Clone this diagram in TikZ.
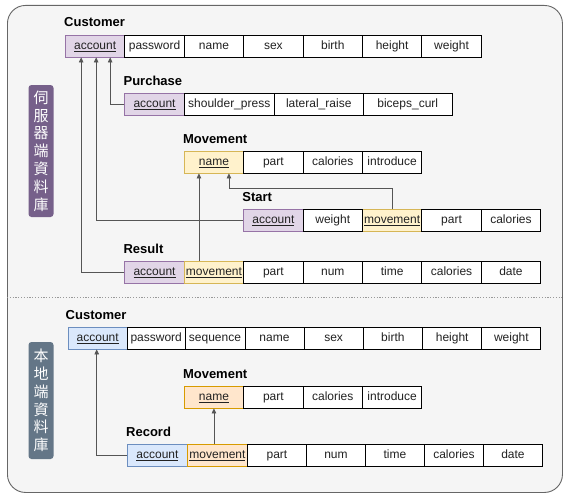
\documentclass[tikz,border=0pt]{standalone}
\usepackage{fontspec}
\setmainfont{Liberation Sans}
\newfontfamily\cjk{Noto Sans CJK TC}
\usetikzlibrary{arrows.meta}
\definecolor{pfill}{HTML}{E1D5E7}\definecolor{pdraw}{HTML}{9673A6}
\definecolor{yfill}{HTML}{FFF2CC}\definecolor{ydraw}{HTML}{D6B656}
\definecolor{bfill}{HTML}{DAE8FC}\definecolor{bdraw}{HTML}{6C8EBF}
\definecolor{ofill}{HTML}{FFE6CC}\definecolor{odraw}{HTML}{D79B00}
\definecolor{bgfill}{HTML}{F5F5F5}\definecolor{bgdraw}{HTML}{666666}
\definecolor{lblpurple}{HTML}{76608A}\definecolor{lblslate}{HTML}{647687}
\definecolor{txt}{HTML}{222222}\definecolor{conncol}{HTML}{555555}
\newcommand{\mkcell}[6]{\node[cell,#6,minimum width=#4pt] (#1) at (#2,#3) {#5};}
\begin{document}
\begin{tikzpicture}[x=1pt,y=-1pt,
  cell/.style={draw=black,fill=white,line width=0.9pt,anchor=north west,minimum height=21.5pt,inner sep=0pt,
    text height=8.6pt,text depth=2.6pt,font=\fontsize{12}{14}\selectfont,text=txt},
  pk/.style={fill=pfill,draw=pdraw},
  yk/.style={fill=yfill,draw=ydraw},
  bk/.style={fill=bfill,draw=bdraw},
  ok/.style={fill=ofill,draw=odraw},
  wk/.style={},
  ttl/.style={anchor=base west,inner sep=0pt,font=\fontsize{13}{15}\bfseries\selectfont,text=black},
  conn/.style={draw=conncol,line width=0.8pt,-{Triangle[length=5pt,width=4.5pt]}},
  lbl/.style={rounded corners=3pt,minimum width=25pt,inner sep=0pt,text=white,font=\cjk\fontsize{15}{17.8}\selectfont,align=center}
]
\useasboundingbox (0,0) rectangle (564,495);
\node[draw=bgdraw,fill=bgfill,line width=0.9pt,rounded corners=18pt,minimum width=555pt,minimum height=487pt,anchor=north west,inner sep=0pt] (frame) at (7,5) {};
\coordinate (sepL) at (7,297);
\coordinate (sepR) at (562,297);
\draw[draw=gray!80,line width=0.8pt,dash pattern=on 1.2pt off 1.6pt] (sepL) -- (sepR);

% labels
\node[lbl,fill=lblpurple,minimum height=132pt] (srvlbl) at (41,151) {伺\\服\\器\\端\\資\\料\\庫};
\node[lbl,fill=lblslate,minimum height=117pt] (loclbl) at (41,400.5) {本\\地\\端\\資\\料\\庫};

% Server Customer
\mkcell{cacc}{65}{35}{59.4}{\underline{account}}{pk}
\mkcell{cpw}{124.4}{35}{59.4}{password}{wk}
\mkcell{cname}{183.8}{35}{59.4}{name}{wk}
\mkcell{csex}{243.2}{35}{59.4}{sex}{wk}
\mkcell{cbirth}{302.6}{35}{59.4}{birth}{wk}
\mkcell{cheight}{362}{35}{59.4}{height}{wk}
\mkcell{cweight}{421.4}{35}{59.4}{weight}{wk}
\node[ttl] (tcust) at ([xshift=-1pt,yshift=8pt]cacc.north west) {Customer};

% Purchase
\mkcell{pacc}{124.4}{93}{59.4}{\underline{account}}{pk}
\mkcell{psp}{183.8}{93}{90}{shoulder\_press}{wk}
\mkcell{plr}{273.8}{93}{89}{lateral\_raise}{wk}
\mkcell{pbc}{362.8}{93}{89}{biceps\_curl}{wk}
\node[ttl] (tpur) at ([xshift=-1pt,yshift=8pt]pacc.north west) {Purchase};

% Movement
\mkcell{mname}{183.8}{151}{59.4}{\underline{name}}{yk}
\mkcell{mpart}{243.2}{151}{59.4}{part}{wk}
\mkcell{mcal}{302.6}{151}{59.4}{calories}{wk}
\mkcell{mintro}{362}{151}{59.4}{introduce}{wk}
\node[ttl] (tmov) at ([xshift=-1pt,yshift=8pt]mname.north west) {Movement};

% Start
\mkcell{sacc}{243.2}{209}{59.4}{\underline{account}}{pk}
\mkcell{smov}{362}{209}{59.4}{\underline{movement}}{yk}
\mkcell{sweight}{302.6}{209}{59.4}{weight}{wk}
\mkcell{spart}{421.4}{209}{59.4}{part}{wk}
\mkcell{scal}{480.8}{209}{59.4}{calories}{wk}
\node[ttl] (tstart) at ([xshift=-1pt,yshift=8pt]sacc.north west) {Start};

% Result
\mkcell{racc}{124.4}{261}{59.4}{\underline{account}}{pk}
\mkcell{rmov}{183.8}{261}{59.4}{\underline{movement}}{yk}
\mkcell{rpart}{243.2}{261}{59.4}{part}{wk}
\mkcell{rnum}{302.6}{261}{59.4}{num}{wk}
\mkcell{rtime}{362}{261}{59.4}{time}{wk}
\mkcell{rcal}{421.4}{261}{59.4}{calories}{wk}
\mkcell{rdate}{480.8}{261}{59.4}{date}{wk}
\node[ttl] (tres) at ([xshift=-1pt,yshift=8pt]racc.north west) {Result};

% Local Customer
\mkcell{lcacc}{67.5}{327}{59.5}{\underline{account}}{bk}
\mkcell{lcpw}{127}{327}{57.5}{password}{wk}
\mkcell{lcseq}{184.5}{327}{60}{sequence}{wk}
\mkcell{lcname}{244.5}{327}{59}{name}{wk}
\mkcell{lcsex}{303.5}{327}{59.3}{sex}{wk}
\mkcell{lcbirth}{362.8}{327}{59.3}{birth}{wk}
\mkcell{lcheight}{422.1}{327}{59.3}{height}{wk}
\mkcell{lcweight}{481.4}{327}{59}{weight}{wk}
\node[ttl] (tlcust) at ([xshift=-2pt,yshift=8pt]lcacc.north west) {Customer};

% Local Movement
\mkcell{lmname}{183.8}{386}{59.4}{\underline{name}}{ok}
\mkcell{lmpart}{243.2}{386}{59.4}{part}{wk}
\mkcell{lmcal}{302.6}{386}{59.4}{calories}{wk}
\mkcell{lmintro}{362}{386}{59.4}{introduce}{wk}
\node[ttl] (tlmov) at ([xshift=-1pt,yshift=8pt]lmname.north west) {Movement};

% Record
\mkcell{lracc}{127}{444}{60}{\underline{account}}{bk}
\mkcell{lrmov}{187}{444}{60}{\underline{movement}}{ok}
\mkcell{lrpart}{247}{444}{59}{part}{wk}
\mkcell{lrnum}{306}{444}{59}{num}{wk}
\mkcell{lrtime}{365}{444}{59}{time}{wk}
\mkcell{lrcal}{424}{444}{59}{calories}{wk}
\mkcell{lrdate}{483}{444}{59}{date}{wk}
\node[ttl] (tlrec) at ([xshift=-1pt,yshift=8pt]lracc.north west) {Record};

% connectors
\draw[conn] (pacc.west) -| ([xshift=15pt]cacc.south);
\draw[conn] (sacc.west) -| ([xshift=1pt]cacc.south);
\draw[conn] (racc.west) -| ([xshift=-14pt]cacc.south);
\draw[conn] ([xshift=-15pt]rmov.north) -- ([xshift=-15pt]mname.south);
\draw[conn] (smov.north) -- ++(0,-21) -| ([xshift=15pt]mname.south);
\draw[conn] (lracc.west) -| ([xshift=-1pt]lcacc.south);
\draw[conn] (lrmov.north -| lmname.south) -- (lmname.south);
\end{tikzpicture}
\end{document}
